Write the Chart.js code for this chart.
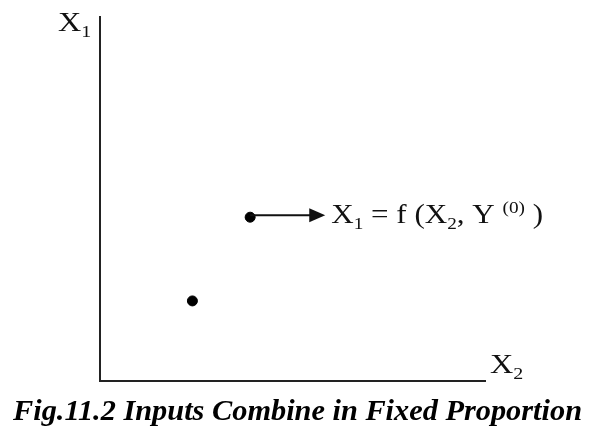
<!DOCTYPE html>
<html>
<head>
<meta charset="utf-8">
<script src="https://cdn.jsdelivr.net/npm/chart.js@4"></script>
<style>
  html, body { margin: 0; padding: 0; background: #fff; }
  #wrap { width: 591px; height: 435px; }
</style>
</head>
<body>
<div id="wrap"><canvas id="fig"></canvas></div>
<script>
// input combinations (X2 on horizontal, X1 on vertical)
const x2Values = [2.4, 3.9];
const x1Values = [2.2, 4.5];
// the arrow starts at the second point and runs to this X2 value
const arrowFromIndex = 1;
const arrowToX2 = 5.85;
const caption = 'Fig.11.2 Inputs Combine in Fixed Proportion';

const serif = '"Liberation Serif", "Times New Roman", serif';
const stretch = 1.15; // the original type is a little wide

// draw a run of text pieces, each with optional sub/sup shift
function drawRuns(ctx, x, y, runs, size) {
    ctx.save();
    ctx.translate(x, y);
    ctx.scale(stretch, 1);
    var cx = 0;
    runs.forEach(function (r) {
        var s = r.small ? size * 0.62 : size;
        ctx.font = s + 'px ' + serif;
        var dy = r.sub ? size * 0.22 : (r.sup ? -size * 0.38 : 0);
        ctx.fillText(r.t, cx, dy);
        cx += ctx.measureText(r.t).width;
    });
    ctx.restore();
}

const labels = {
    id: 'labels',
    afterDatasetsDraw(chart) {
        var ctx = chart.ctx;
        var xs = chart.scales.x, ys = chart.scales.y;
        ctx.save();
        ctx.fillStyle = '#111';
        ctx.strokeStyle = '#111';
        ctx.textBaseline = 'alphabetic';
        ctx.textAlign = 'left';

        // axis names
        drawRuns(ctx, 58, 31, [{t: 'X'}, {t: '1', small: true, sub: true}], 28);
        drawRuns(ctx, xs.right + 5, 373, [{t: 'X'}, {t: '2', small: true, sub: true}], 28);

        // arrow from the point
        var px = xs.getPixelForValue(x2Values[arrowFromIndex]);
        var py = ys.getPixelForValue(x1Values[arrowFromIndex]) - 2;
        var ex = xs.getPixelForValue(arrowToX2);
        ctx.lineWidth = 2;
        ctx.beginPath();
        ctx.moveTo(px, py);
        ctx.lineTo(ex - 14, py);
        ctx.stroke();
        ctx.beginPath();
        ctx.moveTo(ex, py);
        ctx.lineTo(ex - 16, py - 7);
        ctx.lineTo(ex - 16, py + 7);
        ctx.closePath();
        ctx.fill();

        drawRuns(ctx, ex + 6, py + 8, [
            {t: 'X'}, {t: '1', small: true, sub: true},
            {t: ' = f (X'}, {t: '2', small: true, sub: true},
            {t: ', Y '}, {t: '(0)', small: true, sup: true}, {t: ' )'}
        ], 27);

        // caption, fitted to the width it takes in the original
        ctx.fillStyle = '#000';
        ctx.font = 'italic bold 30px ' + serif;
        var w = ctx.measureText(caption).width;
        var left = 13, right = 582;
        ctx.translate(left, 420);
        ctx.scale((right - left) / w, 1);
        ctx.fillText(caption, 0, 0);
        ctx.restore();
    }
};

new Chart(document.getElementById('fig'), {
    type: 'scatter',
    data: {
        datasets: [{
            data: x2Values.map(function (v, i) { return {x: v, y: x1Values[i]}; }),
            backgroundColor: '#000',
            borderColor: '#000',
            pointRadius: 5,
            pointHoverRadius: 5
        }]
    },
    options: {
        responsive: true,
        maintainAspectRatio: false,
        animation: false,
        layout: { padding: { left: 92, right: 106, top: 17, bottom: 46 } },
        plugins: {
            legend: { display: false },
            tooltip: { enabled: false },
            title: { display: false }
        },
        scales: {
            x: {
                min: 0, max: 10,
                grid: { display: false },
                ticks: { display: false },
                border: { display: true, color: '#222', width: 2 }
            },
            y: {
                min: 0, max: 10,
                grid: { display: false },
                ticks: { display: false },
                border: { display: true, color: '#222', width: 2 }
            }
        }
    },
    plugins: [labels]
});
</script>
</body>
</html>
